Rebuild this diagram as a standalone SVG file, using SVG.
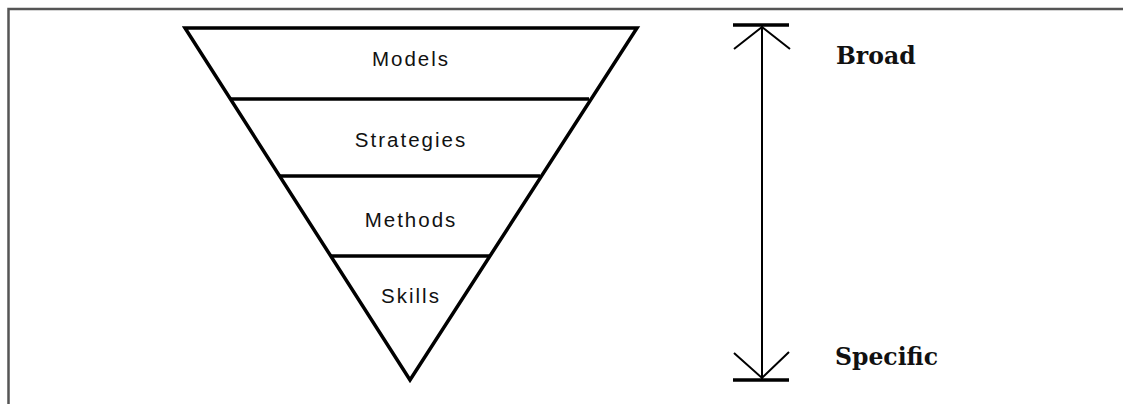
<svg xmlns="http://www.w3.org/2000/svg" width="1123" height="404" viewBox="0 0 1123 404">
<style>
.frame{fill:none;stroke:#555;stroke-width:2.5}
.tri{fill:none;stroke:#000;stroke-width:3.5;stroke-linejoin:miter}
.sep{stroke:#000;stroke-width:3.5}
.lbl{font-family:"Liberation Sans",Arial,sans-serif;font-size:20.5px;letter-spacing:2px;text-anchor:middle;fill:#111}
.side{font-family:"DejaVu Serif",serif;font-weight:bold;font-size:23.5px;fill:#111}
.bar{stroke:#000;stroke-width:3.5}
.ln{stroke:#000;stroke-width:2;fill:none}
</style>
<rect width="1123" height="404" fill="#fff"/>
<path class="frame" d="M8.5,404 V9 H1123"/>
<g id="pyramid">
<polygon class="tri" points="185,28 637,28 410,380"/>
</g>
<g id="models"><text class="lbl" x="411" y="66">Models</text></g>
<g id="strategies">
<line class="sep" x1="231" y1="99" x2="589" y2="99"/>
<text class="lbl" x="411" y="147">Strategies</text></g>
<g id="methods">
<line class="sep" x1="279" y1="176" x2="540" y2="176"/>
<text class="lbl" x="411" y="227">Methods</text></g>
<g id="skills">
<line class="sep" x1="330" y1="256" x2="490" y2="256"/>
<text class="lbl" x="411" y="303">Skills</text></g>
<g id="connectors">
<line class="bar" x1="733" y1="25" x2="789" y2="25"/>
<line class="bar" x1="733" y1="380" x2="789" y2="380"/>
<line class="ln" x1="762" y1="26" x2="762" y2="379"/>
<polyline class="ln" points="734,49 762,27 790,49"/>
<polyline class="ln" points="734,353 762,378 789,352"/>
</g>
<g id="broad"><text class="side" x="836" y="64">Broad</text></g>
<g id="specific"><text class="side" x="835" y="365">Specific</text></g>
</svg>
